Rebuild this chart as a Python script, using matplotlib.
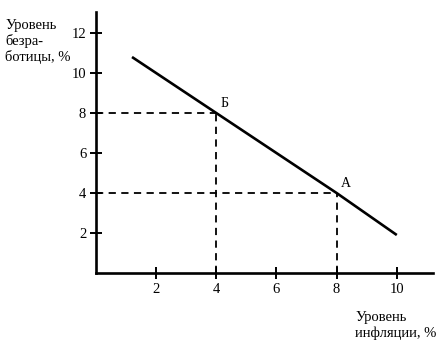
import matplotlib.pyplot as plt

plt.rcParams['font.family'] = ['Liberation Serif', 'DejaVu Serif']

# кривая Филлипса
inflation = [1.2, 4, 8, 10]
unemployment = [10.8, 8, 4, 1.9]

# отмеченные точки
point_names = ['Б', 'А']
point_x = [4, 8]
point_y = [8, 4]

xticks = [2, 4, 6, 8, 10]
yticks = [2, 4, 6, 8, 10, 12]

fig = plt.figure(figsize=(4.44, 3.43), dpi=100)
ax = fig.add_axes([0.216, 0.204, 0.759, 0.761])

ax.plot(inflation, unemployment, color='black', lw=1.9, solid_capstyle='butt')

for name, px, py in zip(point_names, point_x, point_y):
    ax.plot([0, px], [py, py], color='black', lw=1.3, ls=(0, (4, 3)))
    ax.plot([px, px], [0, py], color='black', lw=1.3, ls=(0, (4, 3)))
    ax.annotate(name, (px, py), xytext=(3, 2), textcoords='offset points',
                fontsize=10, ha='left', va='bottom')

ax.set_xlim(0, 11.2)
ax.set_ylim(0, 13.05)
ax.set_xticks(xticks)
ax.set_yticks(yticks)
ax.tick_params(direction='inout', length=8, width=1.4, labelsize=10.5, pad=3)

for s in ['top', 'right']:
    ax.spines[s].set_visible(False)
for s in ['left', 'bottom']:
    ax.spines[s].set_linewidth(1.9)

fig.text(0.012, 0.945, 'Уровень\nбезра-\nботицы, %', fontsize=10.5,
         ha='left', va='top', linespacing=1.2)
fig.text(0.8, 0.092, 'Уровень\nинфляции, %', fontsize=10.5,
         ha='left', va='top', linespacing=1.15)

fig.savefig('out.png', dpi=100)
